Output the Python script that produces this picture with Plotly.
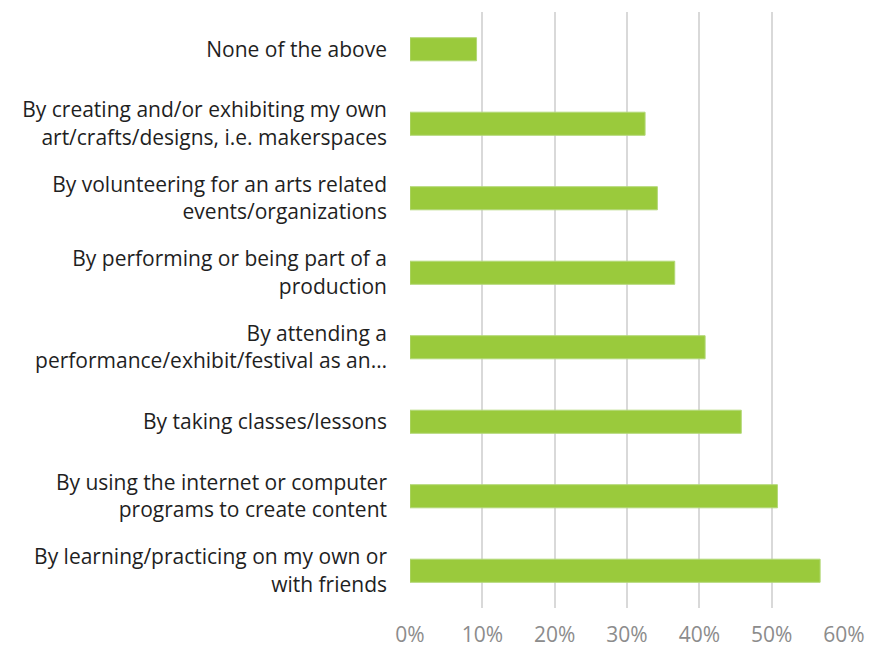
import plotly.graph_objects as go

# Survey responses, listed top to bottom
categories = [
    "None of the above",
    "By creating and/or exhibiting my own<br>art/crafts/designs, i.e. makerspaces",
    "By volunteering for an arts related<br>events/organizations",
    "By performing or being part of a<br>production",
    "By attending a<br>performance/exhibit/festival as an…",
    "By taking classes/lessons",
    "By using the internet or computer<br>programs to create content",
    "By learning/practicing on my own or<br>with friends",
]
shares = [0.092, 0.325, 0.342, 0.366, 0.408, 0.458, 0.508, 0.567]

tick_values = [0, 0.1, 0.2, 0.3, 0.4, 0.5, 0.6]
tick_labels = ["0%", "10%", "20%", "30%", "40%", "50%", "60%"]

fig = go.Figure(
    go.Bar(
        x=shares,
        y=categories,
        orientation="h",
        marker=dict(color="#9aca3c", line=dict(color="#b3d878", width=1)),
        hoverinfo="x+y",
    )
)

fig.update_layout(
    width=871,
    height=649,
    margin=dict(l=410, r=27, t=12, b=41),
    paper_bgcolor="white",
    plot_bgcolor="white",
    bargap=0.69,
    showlegend=False,
    font=dict(family="Open Sans", size=21, color="#262626"),
)

fig.update_xaxes(
    range=[0, 0.6],
    tickvals=tick_values,
    ticktext=tick_labels,
    showgrid=True,
    gridcolor="#d9d9d9",
    gridwidth=1.5,
    zeroline=False,
    showline=False,
    automargin=False,
    tickfont=dict(family="Open Sans", size=21, color="#8c8c8c"),
    ticks="",
    ticklabelstandoff=12,
)

fig.update_yaxes(
    categoryorder="array",
    categoryarray=categories,
    autorange="reversed",
    showgrid=False,
    zeroline=False,
    showline=False,
    automargin=False,
    ticks="",
    ticklabelstandoff=22,
    tickfont=dict(family="Open Sans", size=21, color="#1f1f1f"),
)

fig.write_html("out.html")
